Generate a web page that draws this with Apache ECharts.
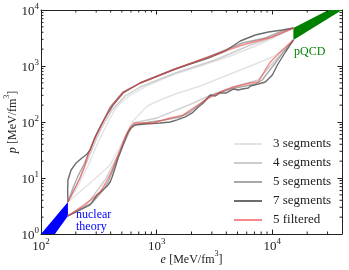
<!DOCTYPE html>
<html><head><meta charset="utf-8">
<script src="https://cdn.jsdelivr.net/npm/echarts@6/dist/echarts.min.js"></script>
<style>html,body{margin:0;padding:0;background:#fff}#c{width:349px;height:270px}</style>
</head><body><div id="c"></div>
<script>
// ---- data (e [MeV/fm^3], p [MeV/fm^3]) ----
const eTicks = [100, 1000, 10000];
const pTicks = [1, 10, 100, 1000, 10000];
const eMinor = [200,300,400,500,600,700,800,900,2000,3000,4000,5000,6000,7000,8000,9000,20000,30000];
const pMinor = [2,3,4,5,6,7,8,9,20,30,40,50,60,70,80,90,200,300,400,500,600,700,800,900,2000,3000,4000,5000,6000,7000,8000,9000];

const nuclearBand = [[100,1],[171,3.73],[171,2.1],[132,1]];
const pqcdBand = [[15200,4770],[30500,10000],[40000,10000],[15200,2900]];

const seg3Upper = [[171,3.73],[209,7.2],[255,16.4],[312,44],[380,100],[455,193],[590,303],[795,422],[1072,562],[1446,720],[2381,1000],[4328,1509],[7870,2471],[15200,4770]];
const seg3Lower = [[171,3.73],[266,8.14],[396,17.1],[503,42.2],[626,104],[827,193],[1072,247],[1446,316],[2381,439],[4328,720],[7125,1085],[10000,1448],[12970,2096],[15200,2912]];

const seg4Upper = [[171,3.73],[201,7.2],[236,15.1],[266,26.8],[299,47.7],[337,81.4],[412,164],[533,291],[720,422],[1072,586],[1446,750],[3208,1280],[6450,2371],[8690,2912],[15200,4770]];
const seg4Lower = [[171,2.1],[266,4.05],[358,9.2],[464,25.7],[566,58.6],[626,96],[1010,118],[2069,218],[2906,303],[5280,458],[7566,562],[9230,921],[11730,1572],[15200,2912]];

const seg5Upper = [[171,3.73],[189,6.63],[209,10.9],[236,17.8],[260,29.1],[288,47.7],[324,81.4],[396,185],[513,343],[720,497],[1072,691],[1446,884],[2793,1448],[5495,2575],[8690,3162],[12210,4217],[15200,4770]];
const seg5Lower = [[171,2.1],[276,3.58],[345,6.1],[380,8.48],[412,12.8],[446,19.3],[473,26.8],[503,37.3],[545,54],[590,75],[638,88.4],[879,100],[1186,109],[1596,123],[1949,151],[2381,210],[2793,279],[3404,330],[4328,388],[5840,439],[7125,477],[8180,562],[9230,781],[10620,1131],[12450,1778],[15200,2912]];

const seg7Upper = [[171,3.73],[170,6.1],[171,9.2],[182,13.9],[201,18.5],[226,22.8],[250,26.8],[266,31.6],[276,38.8],[293,54],[324,81.4],[366,128],[420,201],[513,330],[720,497],[1072,691],[1446,884],[1949,1085],[2793,1389],[3917,1853],[5280,2794],[7125,3577],[9230,4046],[12210,4394],[15200,4770]];
const seg7Lower = [[171,2.1],[266,3.3],[305,4.97],[358,6.63],[380,7.5],[396,8.48],[412,10.4],[437,15.1],[464,22.8],[483,27.9],[513,38.8],[533,47.7],[566,66.3],[601,78.1],[651,88.4],[795,92],[1072,96],[1309,100],[1504,109],[1766,123],[2028,145],[2242,178],[2528,218],[2906,303],[3208,291],[3545,330],[3996,330],[4592,388],[5080,373],[5495,388],[6194,405],[6450,439],[7566,477],[8690,518],[10000,691],[11050,1042],[12970,1778],[15200,2912]];

const filt5Upper = [[171,3.73],[197,6.63],[218,10],[240,17.1],[255,25.7],[276,38.8],[299,56.2],[324,78.1],[396,178],[513,343],[720,497],[1072,691],[1446,884],[2793,1448],[5495,2371],[10000,3296],[15200,4770]];
const filt5Lower = [[171,2.1],[240,3.3],[324,5.62],[366,8.48],[412,13.9],[446,21],[483,31.6],[533,54],[590,81.4],[651,96],[933,96],[1309,118],[1695,133],[2069,178],[2906,279],[3545,343],[4592,422],[6450,497],[7566,518],[8690,849],[9610,1179],[12210,1931],[15200,2912]];

const FONT = 'Liberation Serif';
const chart = echarts.init(document.getElementById('c'), null, {renderer: 'canvas'});

function line(name, data, color, width) {
  return {type: 'line', name: name, data: data, symbol: 'none', showSymbol: false,
    lineStyle: {color: color, width: width}, itemStyle: {color: color}, clip: true, silent: true};
}
function powLabel(v) {
  const k = Math.log10(v);
  if (Math.abs(k - Math.round(k)) > 1e-6) return '';
  return '{b|10}{s|' + Math.round(k) + '}';
}
const richTick = {
  b: {fontSize: 13, fontFamily: FONT, color: '#222', lineHeight: 16, verticalAlign: 'bottom'},
  s: {fontSize: 9, fontFamily: FONT, color: '#222', lineHeight: 16, verticalAlign: 'top'}
};
const richName = {
  i: {fontSize: 12, fontFamily: FONT, fontStyle: 'italic', color: '#222', lineHeight: 16, verticalAlign: 'bottom'},
  t: {fontSize: 12, fontFamily: FONT, color: '#222', lineHeight: 16, verticalAlign: 'bottom'},
  s: {fontSize: 8, fontFamily: FONT, color: '#222', lineHeight: 16, verticalAlign: 'top'}
};
const AX = '#222';
function baseAxis(extra) {
  return Object.assign({
    type: 'log', logBase: 10,
    axisLine: {show: true, lineStyle: {color: AX, width: 1}},
    splitLine: {show: false}
  }, extra);
}
const minorStyle = {stroke: AX, lineWidth: 1};

const option = {
  animation: false,
  grid: {left: 41, right: 7, top: 10, bottom: 36, containLabel: false, outerBoundsMode: 'none'},
  xAxis: [
    baseAxis({min: 100, max: 40000, position: 'bottom',
      axisTick: {show: true, inside: true, length: 4.5, customValues: eTicks, lineStyle: {color: AX}},
      axisLabel: {show: true, customValues: eTicks, formatter: powLabel, margin: 3, rich: richTick},
      name: '{i|e} {t|[MeV/fm}{s|3}{t|]}', nameLocation: 'middle', nameGap: 16, nameMoveOverlap: false,
      nameTextStyle: {rich: richName}}),
    baseAxis({min: 100, max: 40000, position: 'top',
      axisTick: {show: true, inside: true, length: 4.5, customValues: eTicks, lineStyle: {color: AX}},
      axisLabel: {show: false}})
  ],
  yAxis: [
    baseAxis({min: 1, max: 10000, position: 'left',
      axisTick: {show: true, inside: true, length: 4.5, customValues: pTicks, lineStyle: {color: AX}},
      axisLabel: {show: true, customValues: pTicks, formatter: powLabel, margin: 2, rich: richTick},
      name: '{i|p} {t|[MeV/fm}{s|3}{t|]}', nameLocation: 'middle', nameGap: 22, nameMoveOverlap: false,
      nameTextStyle: {rich: richName}}),
    baseAxis({min: 1, max: 10000, position: 'right',
      axisTick: {show: true, inside: true, length: 4.5, customValues: pTicks, lineStyle: {color: AX}},
      axisLabel: {show: false}})
  ],
  legend: {
    data: ['3 segments', '4 segments', '5 segments', '7 segments', '5 filtered'],
    orient: 'vertical', left: 229, top: 132, itemWidth: 28, itemHeight: 2, itemGap: 5, icon: 'rect',
    textStyle: {fontFamily: FONT, fontSize: 13, lineHeight: 14, color: '#222', padding: [0, 0, 0, 6]},
    selectedMode: false
  },
  graphic: [
    {type: 'text', left: 76, top: 209, style: {text: 'nuclear\ntheory', fill: '#0000ff', font: '12px "Liberation Serif"', lineHeight: 12}},
    {type: 'text', left: 294, top: 46, style: {text: 'pQCD', fill: '#008000', font: '12px "Liberation Serif"'}}
  ],
  series: [
    {type: 'custom', name: 'nuclear', data: [[100, 1]], clip: true, silent: true, z: 3,
      renderItem: function (params, api) {
        return {type: 'polygon', shape: {points: nuclearBand.map(function (p) { return api.coord(p); })}, style: {fill: '#0000ff'}};
      }},
    {type: 'custom', name: 'pqcd', data: [[15200, 4770]], clip: true, silent: true, z: 3,
      renderItem: function (params, api) {
        return {type: 'polygon', shape: {points: pqcdBand.map(function (p) { return api.coord(p); })}, style: {fill: '#008000'}};
      }},
    line('3 segments', seg3Upper, '#e3e3e3', 1.4),
    line('3 segments', seg3Lower, '#e3e3e3', 1.4),
    line('4 segments', seg4Upper, '#cdcdcd', 1.4),
    line('4 segments', seg4Lower, '#cdcdcd', 1.4),
    line('5 segments', seg5Upper, '#a8a8a8', 1.4),
    line('5 segments', seg5Lower, '#a8a8a8', 1.4),
    line('7 segments', seg7Upper, '#6c6c6c', 1.4),
    line('7 segments', seg7Lower, '#6c6c6c', 1.4),
    line('5 filtered', filt5Upper, 'rgba(240,60,60,0.6)', 1.4),
    line('5 filtered', filt5Lower, 'rgba(240,60,60,0.6)', 1.4),
    {type: 'custom', name: 'xminor', data: eMinor.map(function (v) { return [v, 1]; }), silent: true, z: 5,
      renderItem: function (params, api) {
        const x = api.coord([api.value(0), 1])[0];
        const cs = params.coordSys;
        const b = cs.y + cs.height;
        return {type: 'group', children: [
          {type: 'line', shape: {x1: x, y1: b, x2: x, y2: b - 2.5}, style: minorStyle},
          {type: 'line', shape: {x1: x, y1: cs.y, x2: x, y2: cs.y + 2.5}, style: minorStyle}
        ]};
      }},
    {type: 'custom', name: 'yminor', data: pMinor.map(function (v) { return [100, v]; }), silent: true, z: 5,
      renderItem: function (params, api) {
        const y = api.coord([100, api.value(1)])[1];
        const cs = params.coordSys;
        const r = cs.x + cs.width;
        return {type: 'group', children: [
          {type: 'line', shape: {x1: cs.x, y1: y, x2: cs.x + 2.5, y2: y}, style: minorStyle},
          {type: 'line', shape: {x1: r, y1: y, x2: r - 2.5, y2: y}, style: minorStyle}
        ]};
      }}
  ]
};
chart.setOption(option);
</script></body></html>
